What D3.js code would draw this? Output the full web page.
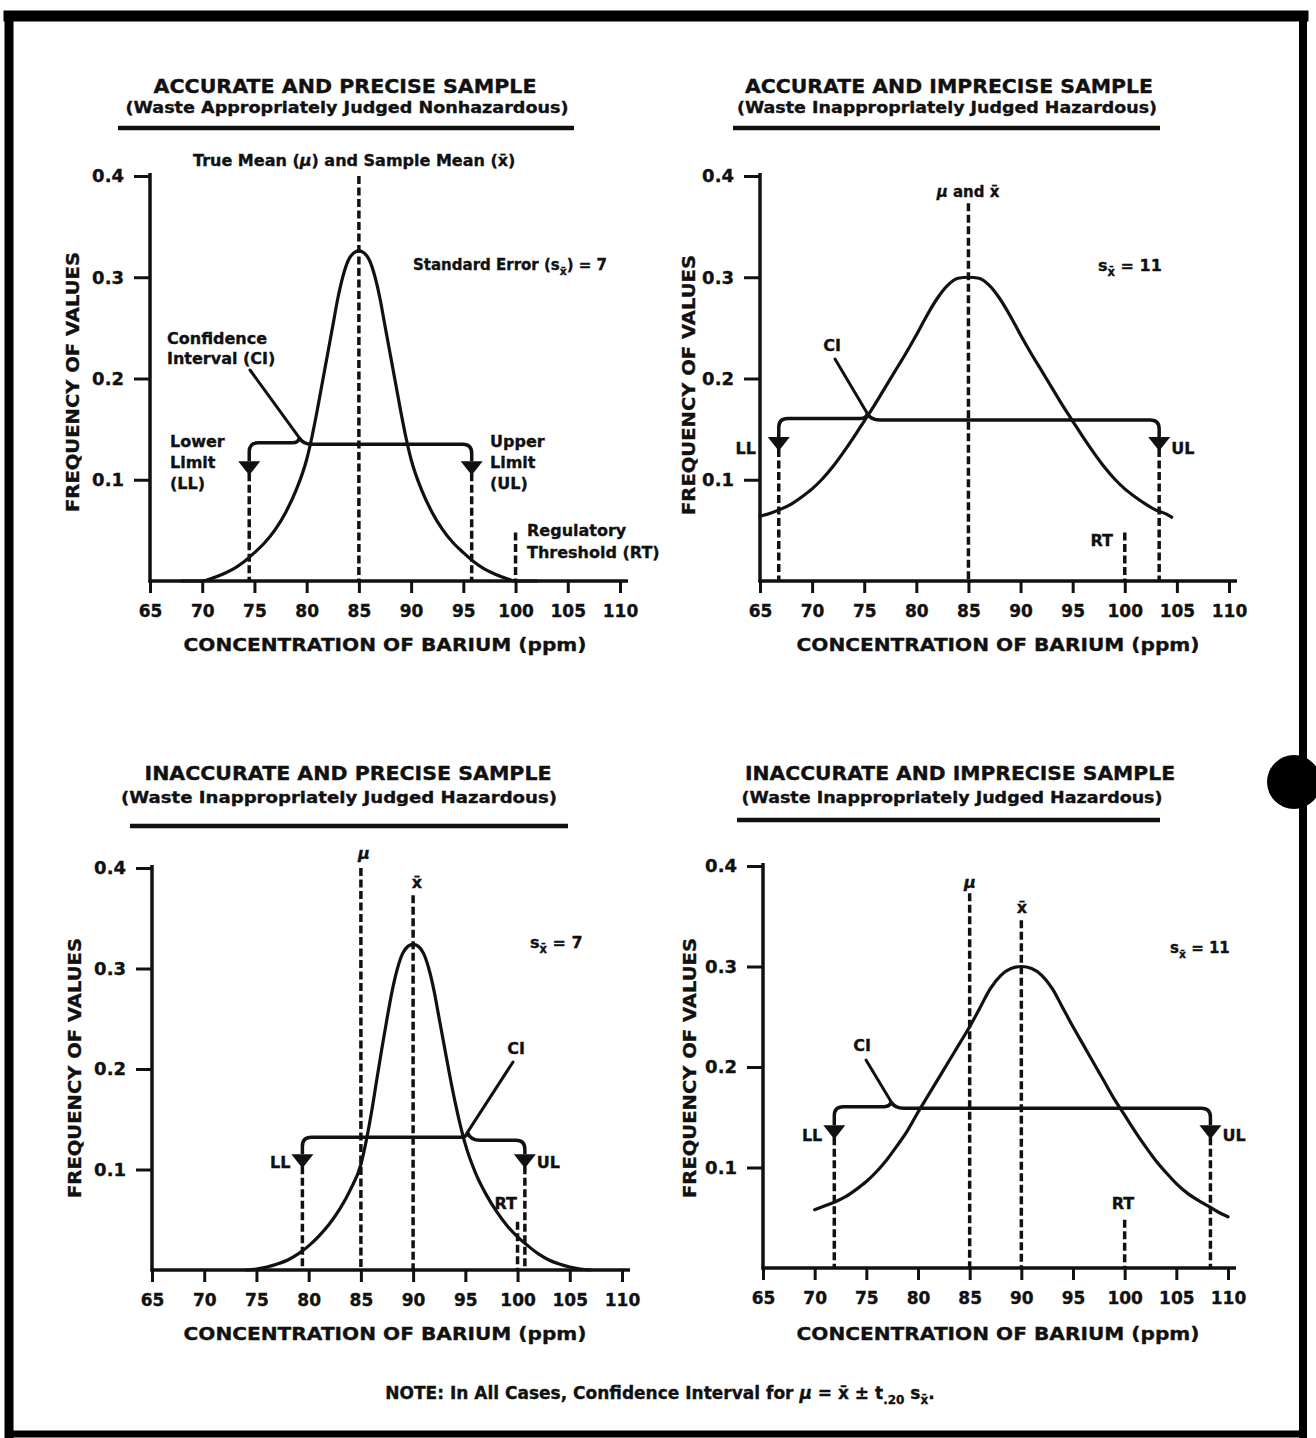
<!DOCTYPE html>
<html>
<head>
<meta charset="utf-8">
<script src="https://cdn.jsdelivr.net/npm/d3@7"></script>
<style>
  body { margin: 0; background: #fff; }
  svg text { font-family: "DejaVu Sans", "Liberation Sans", Arial, sans-serif; font-weight: bold; fill: #111;
             stroke: #111; stroke-width: 0.35px; }
</style>
</head>
<body>
<svg id="chart" width="1316" height="1438"></svg>
<script>
// ---- axis ticks ----
const concTicks = [65, 70, 75, 80, 85, 90, 95, 100, 105, 110];
const freqTicks = [0.1, 0.2, 0.3, 0.4];
const freqTickLabels = ["0.1", "0.2", "0.3", "0.4"];

// ---- panel headings ----
const panelTitles = [
  "ACCURATE AND PRECISE SAMPLE",
  "ACCURATE AND IMPRECISE SAMPLE",
  "INACCURATE AND PRECISE SAMPLE",
  "INACCURATE AND IMPRECISE SAMPLE"
];
const panelSubtitles = [
  "(Waste Appropriately Judged Nonhazardous)",
  "(Waste Inappropriately Judged Hazardous)",
  "(Waste Inappropriately Judged Hazardous)",
  "(Waste Inappropriately Judged Hazardous)"
];

// ---- summary values per panel (ppm / frequency) ----
const trueMean = [85, 85, 85, 85];
const sampleMean = [85, 85, 90, 90];
const stdError = [7, 11, 7, 11];
const lowerLimit = [74.5, 66.8, 79.4, 71.9];
const upperLimit = [95.8, 103.3, 100.7, 108.3];
const ciLevel = [0.135, 0.159, 0.132, 0.159];
const regulatoryThreshold = [100, 100, 100, 100];

// ---- sampling distributions ----
// accurate & precise (mean 85, s = 7)
const concAP = [68, 70, 71, 72, 73, 74, 75, 76, 77, 78, 79, 80, 80.5, 81, 81.5, 82, 82.5, 83, 83.5, 84, 84.5, 85,
  85.5, 86, 86.5, 87, 87.5, 88, 88.5, 89, 89.5, 90, 91, 92, 93, 94, 95, 96, 97, 98, 99, 100, 102];
const freqAP = [0, 0, 0.003, 0.007, 0.012, 0.019, 0.028, 0.038, 0.051, 0.068, 0.09, 0.12, 0.142, 0.168, 0.196, 0.224, 0.252, 0.28, 0.302, 0.317, 0.324, 0.326,
  0.324, 0.317, 0.302, 0.28, 0.252, 0.224, 0.196, 0.168, 0.142, 0.12, 0.09, 0.068, 0.051, 0.038, 0.028, 0.019, 0.012, 0.007, 0.003, 0, 0];

// accurate & imprecise (mean 85, s = 11)
const concAI = [65, 66, 67, 68, 69, 70, 71, 72, 73, 74, 75, 76, 77, 78, 79, 80, 81, 82, 83, 84, 85,
  86, 87, 88, 89, 90, 91, 92, 93, 94, 95, 96, 97, 98, 99, 100, 101, 102, 103, 104, 104.5];
const freqAI = [0.064, 0.067, 0.071, 0.076, 0.083, 0.091, 0.101, 0.113, 0.127, 0.142, 0.158, 0.174, 0.191, 0.208, 0.225, 0.243, 0.262, 0.279, 0.292, 0.299, 0.3,
  0.299, 0.292, 0.279, 0.262, 0.243, 0.225, 0.208, 0.191, 0.174, 0.158, 0.142, 0.127, 0.113, 0.101, 0.091, 0.083, 0.076, 0.07, 0.066, 0.063];

// inaccurate & precise (sample mean 90, s = 7)
const concIP = [74, 75, 76, 77, 78, 79, 80, 81, 82, 83, 84, 85, 85.5, 86, 86.5, 87, 87.5, 88, 88.5, 89, 89.5, 90,
  90.5, 91, 91.5, 92, 92.5, 93, 93.5, 94, 94.5, 95, 96, 97, 98, 99, 100, 101, 102, 103, 104, 105, 106, 107];
const freqIP = [0, 0.001, 0.003, 0.006, 0.01, 0.016, 0.024, 0.034, 0.046, 0.061, 0.08, 0.105, 0.128, 0.156, 0.188, 0.22, 0.25, 0.278, 0.3, 0.315, 0.322, 0.324,
  0.322, 0.315, 0.3, 0.278, 0.25, 0.222, 0.194, 0.168, 0.145, 0.125, 0.096, 0.075, 0.058, 0.044, 0.033, 0.024, 0.016, 0.01, 0.006, 0.003, 0.001, 0];

// inaccurate & imprecise (sample mean 90, s = 11)
const concII = [70, 71, 72, 73, 74, 75, 76, 77, 78, 79, 80, 81, 82, 83, 84, 85, 86, 87, 88, 89, 90,
  91, 92, 93, 94, 95, 96, 97, 98, 99, 100, 101, 102, 103, 104, 105, 106, 107, 108, 109, 110];
const freqII = [0.058, 0.062, 0.066, 0.071, 0.078, 0.086, 0.096, 0.108, 0.122, 0.137, 0.155, 0.172, 0.189, 0.206, 0.223, 0.24, 0.259, 0.278, 0.291, 0.298, 0.3,
  0.298, 0.291, 0.278, 0.259, 0.24, 0.222, 0.204, 0.186, 0.168, 0.152, 0.136, 0.121, 0.107, 0.095, 0.084, 0.075, 0.068, 0.062, 0.056, 0.051];

const curves = [[concAP, freqAP], [concAI, freqAI], [concIP, freqIP], [concII, freqII]];

// ---- page layout (pixels) ----
const layout = [
  { x0: 150, x1: 620, yZero: 581, yTop: 176, titleX: 345, titleY: 86, titleW: 383, subX: 347, subY: 107, subW: 443,
    rule: [118, 574, 128], xTitleX: 385, xTitleY: 645, yTitleX: 73, yTitleY: 382 },
  { x0: 760, x1: 1229, yZero: 581, yTop: 176, titleX: 949, titleY: 86, titleW: 408, subX: 947, subY: 107, subW: 420,
    rule: [733, 1160, 128], xTitleX: 998, xTitleY: 645, yTitleX: 689, yTitleY: 385 },
  { x0: 152, x1: 622, yZero: 1270, yTop: 868, titleX: 348, titleY: 773, titleW: 407, subX: 339, subY: 797, subW: 436,
    rule: [130, 568, 826], xTitleX: 385, xTitleY: 1334, yTitleX: 75, yTitleY: 1068 },
  { x0: 763, x1: 1228, yZero: 1268, yTop: 866, titleX: 960, titleY: 773, titleW: 430, subX: 952, subY: 797, subW: 421,
    rule: [737, 1160, 820], xTitleX: 998, xTitleY: 1334, yTitleX: 690, yTitleY: 1068 }
];

const svg = d3.select("#chart");
const INK = "#111";

// text helper: y is the visual centre of the line
function label(g, str, x, y, o = {}) {
  const size = o.size || 16;
  const t = g.append("text")
    .attr("x", x).attr("y", y + size * 0.36)
    .attr("text-anchor", o.anchor || "start")
    .style("font-size", size + "px")
    .text(str);
  if (o.width) t.attr("textLength", o.width).attr("lengthAdjust", o.adjust || "spacingAndGlyphs");
  if (o.italic) t.style("font-style", "italic");
  return t;
}

// "s" with subscript x-bar, e.g. "Standard Error (sx̄) = 7"
function seLabel(g, before, after, x, y, size) {
  const t = g.append("text").attr("x", x).attr("y", y + size * 0.36).style("font-size", size + "px");
  t.append("tspan").text(before + "s");
  t.append("tspan").attr("dy", 5).style("font-size", (size * 0.72) + "px").text("x\u0304");
  t.append("tspan").attr("dy", -5).text(after);
  return t;
}

// outer frame of the figure
const frame = svg.append("g").attr("stroke", "#000").attr("stroke-linecap", "square");
frame.append("line").attr("x1", 9).attr("y1", 16).attr("x2", 1303).attr("y2", 16).attr("stroke-width", 11);
frame.append("line").attr("x1", 9).attr("y1", 16).attr("x2", 9).attr("y2", 1434).attr("stroke-width", 9);
frame.append("line").attr("x1", 1303).attr("y1", 16).attr("x2", 1303).attr("y2", 1434).attr("stroke-width", 8);
frame.append("line").attr("x1", 9).attr("y1", 1434).attr("x2", 1303).attr("y2", 1434).attr("stroke-width", 7);
svg.append("circle").attr("cx", 1294).attr("cy", 782).attr("r", 27).attr("fill", "#000");

const DASH = "8,3.5";

layout.forEach((L, i) => {
  const g = svg.append("g");
  const x = d3.scaleLinear().domain([65, 110]).range([L.x0, L.x1]);
  const y = d3.scaleLinear().domain([0, 0.4]).range([L.yZero, L.yTop]);

  // headings
  label(g, panelTitles[i], L.titleX, L.titleY, { anchor: "middle", size: 19, width: L.titleW });
  label(g, panelSubtitles[i], L.subX, L.subY, { anchor: "middle", size: 16, width: L.subW });
  g.append("line").attr("x1", L.rule[0]).attr("x2", L.rule[1]).attr("y1", L.rule[2]).attr("y2", L.rule[2])
    .attr("stroke", INK).attr("stroke-width", 4.5);

  // x axis
  const xAxis = d3.axisBottom(x).tickValues(concTicks).tickFormat(d3.format("d"))
    .tickSize(12).tickSizeOuter(0).tickPadding(12);
  const gx = g.append("g").attr("transform", `translate(0,${L.yZero})`).call(xAxis);
  gx.select(".domain").remove();
  gx.selectAll(".tick line").attr("stroke", INK).attr("stroke-width", 3);
  gx.selectAll(".tick text").style("font-size", "17px").attr("fill", INK);
  g.append("line").attr("x1", L.x0 - 1.5).attr("x2", L.x1 + 8).attr("y1", L.yZero).attr("y2", L.yZero)
    .attr("stroke", INK).attr("stroke-width", 3.5);

  // y axis
  const yAxis = d3.axisLeft(y).tickValues(freqTicks).tickFormat((d, k) => freqTickLabels[k])
    .tickSize(16).tickSizeOuter(0).tickPadding(10);
  const gy = g.append("g").attr("transform", `translate(${L.x0},0)`).call(yAxis);
  gy.select(".domain").remove();
  gy.selectAll(".tick line").attr("stroke", INK).attr("stroke-width", 3);
  gy.selectAll(".tick text").style("font-size", "18px").attr("fill", INK);
  g.append("line").attr("x1", L.x0).attr("x2", L.x0).attr("y1", L.yZero + 1.5).attr("y2", y(0.4) - 3)
    .attr("stroke", INK).attr("stroke-width", 3.5);

  // axis titles
  label(g, "CONCENTRATION OF BARIUM (ppm)", L.xTitleX, L.xTitleY, { anchor: "middle", size: 18, width: 403 });
  label(g.append("g").attr("transform", `translate(${L.yTitleX},${L.yTitleY}) rotate(-90)`),
    "FREQUENCY OF VALUES", 0, 0, { anchor: "middle", size: 18, width: 260 });

  // distribution curve
  const [cx, cy] = curves[i];
  const line = d3.line().x(d => x(d[0])).y(d => y(d[1])).curve(d3.curveMonotoneX);
  g.append("path").datum(d3.zip(cx, cy)).attr("d", line)
    .attr("fill", "none").attr("stroke", INK).attr("stroke-width", 3.2).attr("stroke-linecap", "round");

  // confidence interval bracket with limit arrows
  const yb = y(ciLevel[i]);
  const xl = x(lowerLimit[i]), xr = x(upperLimit[i]);
  const arrowTop = yb + 17, arrowH = 14, half = 11, r = 9;
  const nub = [x(79.3), x(75.3), x(95.2), x(77.4)][i];
  const yLeft = i === 2 ? yb : yb - 1.5;
  const yRight = i === 2 ? yb + 3 : yb;
  const cusp = [nub, yLeft - 5];
  const br = d3.path();
  br.moveTo(xl, arrowTop);
  br.lineTo(xl, yLeft + r);
  br.quadraticCurveTo(xl, yLeft, xl + r, yLeft);
  br.lineTo(nub - 7, yLeft);
  br.quadraticCurveTo(nub - 1, yLeft, cusp[0], cusp[1]);
  br.moveTo(cusp[0], cusp[1]);
  br.quadraticCurveTo(nub + 3, yRight, nub + 13, yRight);
  br.lineTo(xr - r, yRight);
  br.quadraticCurveTo(xr, yRight, xr, yRight + r);
  br.lineTo(xr, arrowTop);
  g.append("path").attr("d", br.toString()).attr("fill", "none").attr("stroke", INK)
    .attr("stroke-width", 3.5).attr("stroke-linejoin", "round");

  [xl, xr].forEach(ax => {
    g.append("path").attr("d", `M${ax - half},${arrowTop} L${ax + half},${arrowTop} L${ax},${arrowTop + arrowH} Z`).attr("fill", INK);
    g.append("line").attr("x1", ax).attr("x2", ax).attr("y1", arrowTop + arrowH - 2).attr("y2", L.yZero)
      .attr("stroke", INK).attr("stroke-width", 3.5).attr("stroke-dasharray", DASH);
  });

  // limit labels sit just outside the arrowheads; in panel 2 the lower one sits left of the axis
  const limY = [441, 448, 1162, 1135][i];
  if (i > 0) {
    const llX = i === 1 ? L.x0 - 4 : xl - half - 1;
    label(g, "LL", llX, limY, { anchor: "end" });
    label(g, "UL", xr + half + 1, limY);
  }

  // CI leader line
  const leadFrom = [[250, 370], [835, 359], [513, 1062], [866, 1060]][i];
  g.append("line").attr("x1", leadFrom[0]).attr("y1", leadFrom[1]).attr("x2", cusp[0]).attr("y2", cusp[1])
    .attr("stroke", INK).attr("stroke-width", 3).attr("stroke-linecap", "round");

  // mean lines
  const meanTop = [[0.4, 0.4], [0.373, 0.373], [0.4, 0.373], [0.373, 0.346]][i];
  const means = trueMean[i] === sampleMean[i] ? [[trueMean[i], meanTop[0]]]
    : [[trueMean[i], meanTop[0]], [sampleMean[i], meanTop[1]]];
  means.forEach(([m, top]) => {
    g.append("line").attr("x1", x(m)).attr("x2", x(m)).attr("y1", y(top)).attr("y2", L.yZero)
      .attr("stroke", INK).attr("stroke-width", 3.5).attr("stroke-dasharray", DASH);
  });

  // regulatory threshold
  const rt = regulatoryThreshold[i];
  g.append("line").attr("x1", x(rt)).attr("x2", x(rt)).attr("y1", y(0.048)).attr("y2", L.yZero)
    .attr("stroke", INK).attr("stroke-width", 3.5).attr("stroke-dasharray", DASH);
});

// ---- annotations ----
const ann = svg.append("g");
// panel 1
label(ann, "True Mean (", 193, 160, { size: 16 })
  .call(t => { t.append("tspan").style("font-style", "italic").text("\u03BC"); t.append("tspan").text(") and Sample Mean (x\u0304)"); });
seLabel(ann, "Standard Error (", ") = " + stdError[0], 413, 265, 15);
label(ann, "Confidence", 167, 338);
label(ann, "Interval (CI)", 167, 358);
label(ann, "Lower", 170, 441);
label(ann, "Limit", 170, 462);
label(ann, "(LL)", 170, 483);
label(ann, "Upper", 490, 441);
label(ann, "Limit", 490, 462);
label(ann, "(UL)", 490, 483);
label(ann, "Regulatory", 527, 530);
label(ann, "Threshold (RT)", 527, 552);
// panel 2
label(ann, "", 968, 192, { size: 15, anchor: "middle" })
  .call(t => { t.append("tspan").style("font-style", "italic").text("\u03BC"); t.append("tspan").text(" and x\u0304"); });
seLabel(ann, "", " = " + stdError[1], 1098, 265, 16);
label(ann, "CI", 832, 345, { anchor: "middle" });
label(ann, "RT", 1113, 540, { anchor: "end" });
// panel 3
label(ann, "\u03BC", 364, 853, { italic: true, anchor: "middle" });
label(ann, "x\u0304", 417, 882, { anchor: "middle" });
seLabel(ann, "", " = " + stdError[2], 530, 942, 16);
label(ann, "CI", 516, 1048, { anchor: "middle" });
label(ann, "RT", 517, 1203, { anchor: "end" });
// panel 4
label(ann, "\u03BC", 970, 882, { italic: true, anchor: "middle" });
label(ann, "x\u0304", 1022, 907, { anchor: "middle" });
seLabel(ann, "", " = " + stdError[3], 1170, 948, 15);
label(ann, "CI", 862, 1045, { anchor: "middle" });
label(ann, "RT", 1123, 1203, { anchor: "middle" });

// footnote
const note = ann.append("text").attr("x", 660).attr("y", 1393 + 6).attr("text-anchor", "middle").style("font-size", "17px");
note.append("tspan").text("NOTE: In All Cases, Confidence Interval for ");
note.append("tspan").style("font-style", "italic").text("\u03BC");
note.append("tspan").text(" = x\u0304 \u00B1 t");
note.append("tspan").attr("dy", 5).style("font-size", "12px").text(".20");
note.append("tspan").attr("dy", -5).text(" s");
note.append("tspan").attr("dy", 5).style("font-size", "12px").text("x\u0304");
note.append("tspan").attr("dy", -5).text(".");
</script>
</body>
</html>
